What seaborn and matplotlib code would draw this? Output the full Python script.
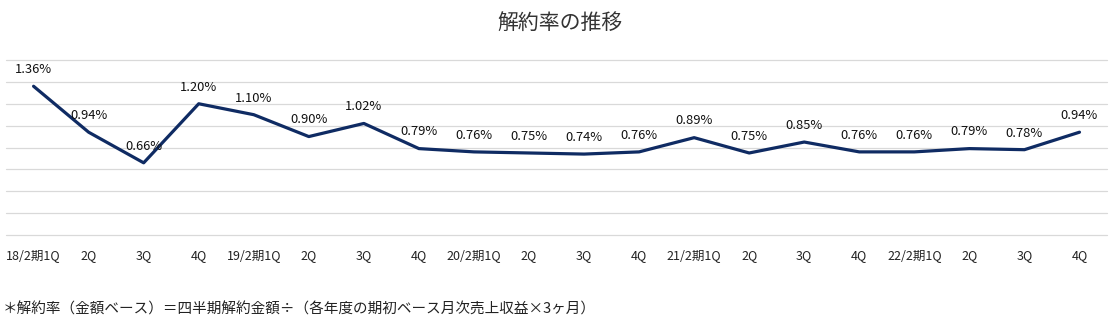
import matplotlib
matplotlib.use("Agg")
import matplotlib.pyplot as plt
import seaborn as sns
import pandas as pd

quarters = ["18/2期1Q", "2Q", "3Q", "4Q", "19/2期1Q", "2Q", "3Q", "4Q",
            "20/2期1Q", "2Q", "3Q", "4Q", "21/2期1Q", "2Q", "3Q", "4Q",
            "22/2期1Q", "2Q", "3Q", "4Q"]
rates = [1.36, 0.94, 0.66, 1.20, 1.10, 0.90, 1.02, 0.79, 0.76, 0.75,
         0.74, 0.76, 0.89, 0.75, 0.85, 0.76, 0.76, 0.79, 0.78, 0.94]
title = "解約率の推移"
footnote = "＊解約率（金額ベース）＝四半期解約金額÷（各年度の期初ベース月次売上収益×3ヶ月）"

sns.set_theme(style="white")
plt.rcParams['font.family'] = ['Noto Sans CJK JP', 'DejaVu Sans']

df = pd.DataFrame({"idx": range(len(rates)), "rate": rates})

fig = plt.figure(figsize=(11.2, 3.27), dpi=100)
ax = fig.add_axes([0.0054, 0.2813, 0.9830, 0.5352])
line_color = "#0f2b63"
sns.lineplot(data=df, x="idx", y="rate", ax=ax, color=line_color, linewidth=2.3)

ax.set_xlim(-0.5, len(rates) - 0.5)
ax.set_ylim(0, 1.6)
ax.set_yticks([0.2 * i for i in range(9)])
ax.yaxis.grid(True, color="#d9d9d9", linewidth=0.9)
for gl in ax.get_ygridlines():
    gl.set_clip_on(False)
ax.xaxis.grid(False)
ax.set_yticklabels([])
ax.tick_params(axis="y", length=0)
ax.set_xticks(range(len(rates)))
ax.set_xticklabels(quarters, fontsize=9, color="#222222")
ax.tick_params(axis="x", length=0, pad=10)
ax.set_xlabel("")
ax.set_ylabel("")
for s in ax.spines.values():
    s.set_visible(False)

for i, v in enumerate(rates):
    ax.annotate(f"{v:.2f}%", (i, v), xytext=(0, 12), textcoords="offset points",
                ha="center", va="center", fontsize=9.3, color="#111111")

fig.text(0.5, 0.93, title, ha="center", va="center", fontsize=15, color="#333333")
fig.text(0.002, 0.055, footnote, ha="left", va="center", fontsize=10.5, color="#222222")

fig.savefig("out.png", dpi=100)
